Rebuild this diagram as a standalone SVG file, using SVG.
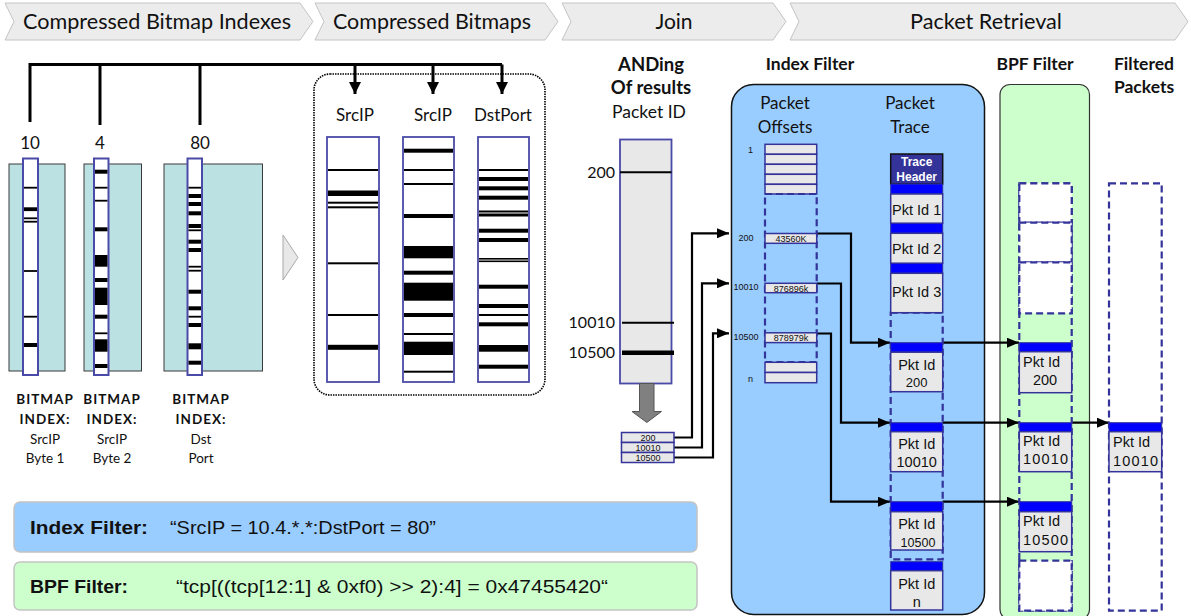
<svg xmlns="http://www.w3.org/2000/svg" width="1191" height="616" viewBox="0 0 1191 616">
<defs>
<style>
.hdr{fill:#ececec;stroke:#c4c4c4;stroke-width:1}
.ht{font-family:Lato,"Open Sans",sans-serif;font-size:21px;fill:#111;text-anchor:middle}
.cal{font-family:Lato,"Open Sans",sans-serif;fill:#111}
.calb{font-family:Lato,"Open Sans",sans-serif;font-weight:bold;fill:#111}
.ar{font-family:"Liberation Sans",Arial,sans-serif;fill:#111}
.teal{fill:#bce1e3;stroke:#3a3a3a;stroke-width:1}
.strip{fill:#fff;stroke:#4a4aa8;stroke-width:2}
.bcol{fill:#fff;stroke:#4a4aa8;stroke-width:1.8}
.gray{fill:#e8e8e8;stroke:#4a4aa8;stroke-width:1.8}
.cell{fill:#e8e8e8;stroke:#333399;stroke-width:1.5}
.dash{fill:none;stroke:#333399;stroke-width:2.2;stroke-dasharray:7,4}
.dashw{fill:#fff;stroke:#333399;stroke-width:2.2;stroke-dasharray:7,4}
.bar{fill:#0000ff;stroke:#333399;stroke-width:1}
.conn{fill:none;stroke:#000;stroke-width:2.2}
.br{fill:none;stroke:#000;stroke-width:3}
</style>
<marker id="ah" viewBox="0 0 12 10" refX="12" refY="5" markerWidth="12" markerHeight="10" markerUnits="userSpaceOnUse" orient="auto"><path d="M0,0 L12,5 L0,10 z" fill="#000"/></marker>
<marker id="ahb" viewBox="0 0 12 12" refX="12" refY="6" markerWidth="12" markerHeight="12" markerUnits="userSpaceOnUse" orient="auto"><path d="M0,0 L12,6 L0,12 z" fill="#000"/></marker>
</defs>
<rect width="1191" height="616" fill="#fff"/>

<g id="headers">
<polygon class="hdr" points="5,3 300,3 313,21.5 300,40 5,40 14,21.5"/>
<text class="ht" x="157" y="29" textLength="268" lengthAdjust="spacingAndGlyphs">Compressed Bitmap Indexes</text>
<polygon class="hdr" points="315,3 545,3 558,21.5 545,40 315,40 324,21.5"/>
<text class="ht" x="432" y="29" textLength="198" lengthAdjust="spacingAndGlyphs">Compressed Bitmaps</text>
<polygon class="hdr" points="562,3 773,3 786,21.5 773,40 562,40 571,21.5"/>
<text class="ht" x="674" y="29">Join</text>
<polygon class="hdr" points="790,3 1175,3 1188,21.5 1175,40 790,40 799,21.5"/>
<text class="ht" x="986" y="29" textLength="152" lengthAdjust="spacingAndGlyphs">Packet Retrieval</text>
</g>

<g id="containers">
<rect x="731.5" y="84.5" width="253" height="530" rx="22" fill="#99ccff" stroke="#111" stroke-width="1.5"/>
<rect x="1000" y="84.5" width="89.5" height="535" rx="10" fill="#ccffcc" stroke="#333" stroke-width="1.2"/>
<rect x="314" y="74" width="231" height="321" rx="16" fill="#fff" stroke="#000" stroke-width="1.6" stroke-dasharray="1.5,1"/>
</g>

<g id="bottom-filters">
<rect x="14" y="502" width="683" height="50" rx="6" fill="#99ccff" stroke="#c4c4c4" stroke-width="1.5"/>
<text x="30" y="534" class="ar" font-size="19" font-weight="bold" textLength="118" lengthAdjust="spacingAndGlyphs">Index Filter:</text>
<text x="170" y="534" class="ar" font-size="19" textLength="266" lengthAdjust="spacingAndGlyphs">“SrcIP = 10.4.*.*:DstPort = 80”</text>
<rect x="14" y="562" width="683" height="48" rx="6" fill="#ccffcc" stroke="#c4c4c4" stroke-width="1.5"/>
<text x="30" y="593" class="ar" font-size="19" font-weight="bold" textLength="98" lengthAdjust="spacingAndGlyphs">BPF Filter:</text>
<text x="176" y="593" class="ar" font-size="19" textLength="432" lengthAdjust="spacingAndGlyphs">“tcp[((tcp[12:1] &amp; 0xf0) &gt;&gt; 2):4] = 0x47455420“</text>
</g>

<g id="connectors">
<path class="br" d="M30,122 V64.5 H502"/>
<path class="br" d="M100,64.5 V125"/>
<path class="br" d="M200,64.5 V125"/>
<path class="br" d="M355,64.5 V94" marker-end="url(#ahb)"/>
<path class="br" d="M433,64.5 V94" marker-end="url(#ahb)"/>
<path class="br" d="M502,64.5 V94" marker-end="url(#ahb)"/>
<path class="conn" stroke-width="1.8" d="M674,437.5 H692 V233.3 H729" marker-end="url(#ah)"/>
<path class="conn" stroke-width="1.8" d="M674,447.5 H702 V283.3 H729" marker-end="url(#ah)"/>
<path class="conn" stroke-width="1.8" d="M674,457.5 H713 V333.3 H729" marker-end="url(#ah)"/>
<path class="conn" d="M817,233.5 H851 V342.7 H890" marker-end="url(#ah)"/>
<path class="conn" d="M817,283.5 H841 V422.7 H890" marker-end="url(#ah)"/>
<path class="conn" d="M817,333.5 H831 V501.7 H890" marker-end="url(#ah)"/>
<path class="conn" d="M942.7,342.7 H1019" marker-end="url(#ah)"/>
<path class="conn" d="M942.7,422.7 H1019" marker-end="url(#ah)"/>
<path class="conn" d="M942.7,501.7 H1019" marker-end="url(#ah)"/>
<path class="conn" d="M1072,422.7 H1109" marker-end="url(#ah)"/>
</g>

<g id="bitmap-index-srcip-byte1">
<text class="cal" x="30" y="149" font-size="17" text-anchor="middle">10</text>
<rect class="teal" x="9" y="164" width="56" height="207"/>
<rect class="strip" x="23" y="158.5" width="15" height="216.5"/>
<g fill="#000">
<rect x="24" y="186.8" width="13" height="1.8"/>
<rect x="24" y="207.3" width="13" height="3.8"/>
<rect x="24" y="217.4" width="13" height="1.8"/>
<rect x="24" y="220.8" width="13" height="1.8"/>
<rect x="24" y="270.1" width="13" height="1.8"/>
<rect x="24" y="315.8" width="13" height="1.8"/>
<rect x="24" y="343" width="13" height="4"/>
</g>
<text class="calb" x="45" y="404" font-size="13.5" text-anchor="middle" letter-spacing="1">BITMAP</text>
<text class="calb" x="45" y="424" font-size="13.5" text-anchor="middle" letter-spacing="1">INDEX:</text>
<text class="cal" x="45" y="444" font-size="13.5" text-anchor="middle">SrcIP</text>
<text class="cal" x="45" y="463" font-size="13.5" text-anchor="middle">Byte 1</text>
</g>

<g id="bitmap-index-srcip-byte2">
<text class="cal" x="100" y="149" font-size="17" text-anchor="middle">4</text>
<rect class="teal" x="84" y="164" width="57.5" height="207"/>
<rect class="strip" x="94" y="158.5" width="14.5" height="216.5"/>
<g fill="#000">
<rect x="95" y="169.7" width="12.5" height="4"/>
<rect x="95" y="186.8" width="12.5" height="1.8"/>
<rect x="95" y="199.8" width="12.5" height="1.8"/>
<rect x="95" y="227.3" width="12.5" height="4"/>
<rect x="95" y="255" width="12.5" height="11.7"/>
<rect x="95" y="278" width="12.5" height="4"/>
<rect x="95" y="287.7" width="12.5" height="17.3"/>
<rect x="95" y="314.7" width="12.5" height="4"/>
<rect x="95" y="332.4" width="12.5" height="1.8"/>
<rect x="95" y="339.3" width="12.5" height="12.4"/>
<rect x="95" y="364" width="12.5" height="4"/>
</g>
<text class="calb" x="112" y="404" font-size="13.5" text-anchor="middle" letter-spacing="1">BITMAP</text>
<text class="calb" x="112" y="424" font-size="13.5" text-anchor="middle" letter-spacing="1">INDEX:</text>
<text class="cal" x="112" y="444" font-size="13.5" text-anchor="middle">SrcIP</text>
<text class="cal" x="112" y="463" font-size="13.5" text-anchor="middle">Byte 2</text>
</g>

<g id="bitmap-index-dstport">
<text class="cal" x="200" y="149" font-size="17" text-anchor="middle">80</text>
<rect class="teal" x="164" y="164" width="98.5" height="207"/>
<rect class="strip" x="187.5" y="158.5" width="14.5" height="216.5"/>
<g fill="#000">
<rect x="188.5" y="186.8" width="12.5" height="1.8"/>
<rect x="188.5" y="194" width="12.5" height="4"/>
<rect x="188.5" y="202" width="12.5" height="4"/>
<rect x="188.5" y="211.3" width="12.5" height="4"/>
<rect x="188.5" y="224" width="12.5" height="4"/>
<rect x="188.5" y="229.4" width="12.5" height="1.8"/>
<rect x="188.5" y="239.7" width="12.5" height="4"/>
<rect x="188.5" y="248" width="12.5" height="4"/>
<rect x="188.5" y="265.8" width="12.5" height="1.8"/>
<rect x="188.5" y="269.8" width="12.5" height="1.8"/>
<rect x="188.5" y="289.7" width="12.5" height="4"/>
<rect x="188.5" y="306.3" width="12.5" height="4"/>
<rect x="188.5" y="315.8" width="12.5" height="1.8"/>
<rect x="188.5" y="323" width="12.5" height="4"/>
<rect x="188.5" y="343.3" width="12.5" height="6"/>
<rect x="188.5" y="360.7" width="12.5" height="4"/>
</g>
<text class="calb" x="201" y="404" font-size="13.5" text-anchor="middle" letter-spacing="1">BITMAP</text>
<text class="calb" x="201" y="424" font-size="13.5" text-anchor="middle" letter-spacing="1">INDEX:</text>
<text class="cal" x="201" y="444" font-size="13.5" text-anchor="middle">Dst</text>
<text class="cal" x="201" y="463" font-size="13.5" text-anchor="middle">Port</text>
</g>

<g id="stage-arrow">
<polygon points="283,235 298,257.5 283,280" fill="#e8e8e8" stroke="#a8a8a8" stroke-width="1"/>
</g>

<g id="bitmap-srcip-1">
<text class="cal" x="355" y="121" font-size="17" text-anchor="middle">SrcIP</text>
<rect class="bcol" x="327" y="137" width="52" height="245"/>
<g fill="#000">
<rect x="328" y="169" width="50" height="2"/>
<rect x="328" y="190.5" width="50" height="5.5"/>
<rect x="328" y="201.7" width="50" height="2"/>
<rect x="328" y="206.3" width="50" height="2"/>
<rect x="328" y="262.3" width="50" height="2"/>
<rect x="328" y="314" width="50" height="2"/>
<rect x="328" y="344.8" width="50" height="5"/>
</g>
</g>

<g id="bitmap-srcip-2">
<text class="cal" x="433" y="121" font-size="17" text-anchor="middle">SrcIP</text>
<rect class="bcol" x="403" y="137" width="51" height="245"/>
<g fill="#000">
<rect x="404" y="148.7" width="49" height="4"/>
<rect x="404" y="169" width="49" height="2"/>
<rect x="404" y="183" width="49" height="2"/>
<rect x="404" y="214" width="49" height="4"/>
<rect x="404" y="246" width="49" height="12.3"/>
<rect x="404" y="270.7" width="49" height="4"/>
<rect x="404" y="282.7" width="49" height="18"/>
<rect x="404" y="313" width="49" height="4"/>
<rect x="404" y="333" width="49" height="2"/>
<rect x="404" y="341.7" width="49" height="13.3"/>
<rect x="404" y="370.7" width="49" height="2"/>
</g>
</g>

<g id="bitmap-dstport">
<text class="cal" x="503" y="121" font-size="17" text-anchor="middle">DstPort</text>
<rect class="bcol" x="478" y="137" width="51" height="245"/>
<g fill="#000">
<rect x="479" y="169" width="49" height="2"/>
<rect x="479" y="177" width="49" height="4"/>
<rect x="479" y="186.3" width="49" height="4"/>
<rect x="479" y="195.7" width="49" height="4"/>
<rect x="479" y="210.5" width="49" height="2"/>
<rect x="479" y="213.5" width="49" height="3"/>
<rect x="479" y="228.7" width="49" height="4"/>
<rect x="479" y="238" width="49" height="4"/>
<rect x="479" y="258" width="49" height="1.6"/>
<rect x="479" y="260.5" width="49" height="1.6"/>
<rect x="479" y="284.7" width="49" height="4"/>
<rect x="479" y="304" width="49" height="4"/>
<rect x="479" y="314" width="49" height="2"/>
<rect x="479" y="322.3" width="49" height="4"/>
<rect x="479" y="345" width="49" height="6.7"/>
<rect x="479" y="364.7" width="49" height="4"/>
</g>
</g>

<g id="join-and">
<text class="calb" x="651" y="71" font-size="18.5" text-anchor="middle">ANDing</text>
<text class="calb" x="651" y="94" font-size="18.5" text-anchor="middle">Of results</text>
<text class="cal" x="649" y="118" font-size="17.5" text-anchor="middle">Packet ID</text>
<rect class="gray" x="620" y="139.5" width="51.5" height="244"/>
<line x1="620" y1="172.3" x2="671.5" y2="172.3" stroke="#000" stroke-width="2"/>
<line x1="622" y1="322.7" x2="674" y2="322.7" stroke="#000" stroke-width="2"/>
<line x1="622" y1="352.7" x2="674" y2="352.7" stroke="#000" stroke-width="4.5"/>
<text class="cal" x="615" y="178" font-size="16" text-anchor="end">200</text>
<text class="cal" x="615" y="328" font-size="16" text-anchor="end">10010</text>
<text class="cal" x="615" y="358" font-size="16" text-anchor="end">10500</text>
<polygon points="639.5,383.5 654,383.5 654,411.5 661.5,411.5 646.8,422.5 632,411.5 639.5,411.5" fill="#808080" stroke="#555" stroke-width="1"/>
</g>

<g id="join-result-table">
<rect class="cell" x="621.5" y="432.5" width="52.5" height="10"/>
<rect class="cell" x="621.5" y="442.5" width="52.5" height="10"/>
<rect class="cell" x="621.5" y="452.5" width="52.5" height="10"/>
<text class="ar" x="648" y="440.8" font-size="9" text-anchor="middle">200</text>
<text class="ar" x="648" y="450.8" font-size="9" text-anchor="middle">10010</text>
<text class="ar" x="648" y="460.8" font-size="9" text-anchor="middle">10500</text>
</g>

<g id="index-filter-title">
<text class="calb" x="810" y="70" font-size="17.5" text-anchor="middle">Index Filter</text>
</g>

<g id="packet-offsets">
<text class="cal" x="785" y="109" font-size="17" text-anchor="middle">Packet</text>
<text class="cal" x="785" y="133" font-size="17" text-anchor="middle">Offsets</text>
<rect class="cell" x="765" y="144.3" width="51.7" height="10"/>
<rect class="cell" x="765" y="154.3" width="51.7" height="10"/>
<rect class="cell" x="765" y="164.3" width="51.7" height="10"/>
<rect class="cell" x="765" y="174.3" width="51.7" height="10"/>
<rect class="cell" x="765" y="184.3" width="51.7" height="9.7"/>
<rect class="dash" x="765" y="194" width="51.7" height="168"/>
<rect class="cell" x="765" y="233.5" width="51.7" height="9.8"/>
<rect class="cell" x="765" y="283.3" width="51.7" height="9.4"/>
<rect class="cell" x="765" y="332.8" width="51.7" height="9.8"/>
<rect class="cell" x="765" y="362.3" width="51.7" height="10.2"/>
<rect class="cell" x="765" y="372.5" width="51.7" height="10.2"/>
<text class="ar" x="791" y="241.8" font-size="9" text-anchor="middle">43560K</text>
<text class="ar" x="791" y="291.5" font-size="9" text-anchor="middle">876896k</text>
<text class="ar" x="791" y="341" font-size="9" text-anchor="middle">878979k</text>
<text class="ar" x="750.5" y="153" font-size="9" text-anchor="middle">1</text>
<text class="ar" x="746" y="241" font-size="9" text-anchor="middle">200</text>
<text class="ar" x="746" y="290" font-size="9" text-anchor="middle">10010</text>
<text class="ar" x="746" y="340" font-size="9" text-anchor="middle">10500</text>
<text class="ar" x="750.5" y="382" font-size="9" text-anchor="middle">n</text>
</g>

<g id="packet-trace">
<text class="cal" x="910" y="109" font-size="17" text-anchor="middle">Packet</text>
<text class="cal" x="910" y="133" font-size="17" text-anchor="middle">Trace</text>
<rect class="dash" x="890.7" y="312.7" width="52" height="246.6"/>
<rect x="890.7" y="154" width="52" height="30" fill="#333399" stroke="#111" stroke-width="1.5"/>
<text class="ar" x="916.7" y="165.5" font-size="12" font-weight="bold" text-anchor="middle" style="fill:#fff">Trace</text>
<text class="ar" x="916.7" y="181" font-size="12" font-weight="bold" text-anchor="middle" style="fill:#fff">Header</text>
<rect class="bar" x="890.7" y="184" width="52" height="10"/>
<rect class="cell" x="890.7" y="194" width="52" height="29.3"/>
<text class="ar" x="916.7" y="214.5" font-size="14.5" text-anchor="middle">Pkt Id 1</text>
<rect class="bar" x="890.7" y="223.3" width="52" height="10"/>
<rect class="cell" x="890.7" y="233.3" width="52" height="30"/>
<text class="ar" x="916.7" y="254" font-size="14.5" text-anchor="middle">Pkt Id 2</text>
<rect class="bar" x="890.7" y="263.3" width="52" height="10"/>
<rect class="cell" x="890.7" y="273.3" width="52" height="39.4"/>
<text class="ar" x="916.7" y="297" font-size="14.5" text-anchor="middle">Pkt Id 3</text>
<rect class="bar" x="890.7" y="342.7" width="52" height="9.5"/>
<rect class="cell" x="890.7" y="352.2" width="52" height="39.5"/>
<text class="ar" x="916.7" y="370" font-size="14.5" text-anchor="middle">Pkt Id</text>
<text class="ar" x="916.7" y="387" font-size="13" text-anchor="middle">200</text>
<rect class="bar" x="890.7" y="422.7" width="52" height="9"/>
<rect class="cell" x="890.7" y="431.7" width="52" height="40"/>
<text class="ar" x="916.7" y="448.5" font-size="14.5" text-anchor="middle">Pkt Id</text>
<text class="ar" x="916.7" y="467" font-size="14.5" text-anchor="middle">10010</text>
<rect class="bar" x="890.7" y="501.7" width="52" height="10"/>
<rect class="cell" x="890.7" y="511.7" width="52" height="38.3"/>
<text class="ar" x="916.7" y="529" font-size="14.5" text-anchor="middle">Pkt Id</text>
<text class="ar" x="918" y="546.5" font-size="12.5" text-anchor="middle">10500</text>
<rect class="bar" x="890.7" y="561.7" width="52" height="9"/>
<rect class="cell" x="890.7" y="570.7" width="52" height="39.3"/>
<text class="ar" x="916.7" y="588.5" font-size="14.5" text-anchor="middle">Pkt Id</text>
<text class="ar" x="916.7" y="606.5" font-size="14.5" text-anchor="middle">n</text>
</g>

<g id="bpf-filter">
<text class="calb" x="1035" y="70" font-size="17.5" text-anchor="middle">BPF Filter</text>
<rect class="dash" x="1019.3" y="183.3" width="52.4" height="427.4"/>
<rect class="dashw" x="1019.3" y="183.3" width="52.4" height="39.4"/>
<rect class="dashw" x="1019.3" y="222.7" width="52.4" height="39.6"/>
<rect class="dashw" x="1019.3" y="262.3" width="52.4" height="51"/>
<rect class="bar" x="1019.3" y="342.7" width="52.4" height="9"/>
<rect class="cell" x="1019.3" y="351.7" width="52.4" height="41"/>
<text class="ar" x="1023" y="366.5" font-size="14.5">Pkt Id</text>
<text class="ar" x="1045" y="385" font-size="14.5" text-anchor="middle">200</text>
<rect class="bar" x="1019.3" y="422.7" width="52.4" height="9"/>
<rect class="cell" x="1019.3" y="431.7" width="52.4" height="40"/>
<text class="ar" x="1023" y="445.5" font-size="14.5">Pkt Id</text>
<text class="ar" x="1023" y="464" font-size="14.5" textLength="45" lengthAdjust="spacing">10010</text>
<rect class="bar" x="1019.3" y="501.7" width="52.4" height="10"/>
<rect class="cell" x="1019.3" y="511.7" width="52.4" height="40"/>
<text class="ar" x="1023" y="526" font-size="14.5">Pkt Id</text>
<text class="ar" x="1023" y="545" font-size="14.5" textLength="45" lengthAdjust="spacing">10500</text>
<rect class="dashw" x="1019.3" y="560.7" width="52.4" height="50"/>
</g>

<g id="filtered-packets">
<text class="calb" x="1144" y="70" font-size="17.5" text-anchor="middle">Filtered</text>
<text class="calb" x="1144" y="93" font-size="17.5" text-anchor="middle">Packets</text>
<rect class="dashw" x="1109" y="183.3" width="52.7" height="427.4"/>
<rect class="bar" x="1109" y="422.7" width="52.7" height="9"/>
<rect class="cell" x="1109" y="431.7" width="52.7" height="40"/>
<text class="ar" x="1113" y="447" font-size="14.5">Pkt Id</text>
<text class="ar" x="1113" y="465.5" font-size="14.5" textLength="45" lengthAdjust="spacing">10010</text>
</g>
</svg>
